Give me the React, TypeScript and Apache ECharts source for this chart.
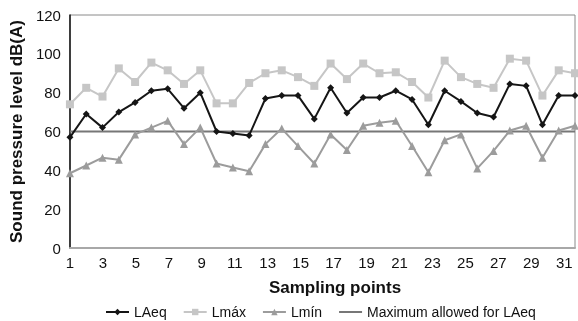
import React, { useEffect, useRef } from "react";
import * as echarts from "echarts";

const categories = Array.from({ length: 32 }, (_, i) => String(i + 1));
const laeq = [57, 69, 62, 70, 75, 81, 82, 72, 80, 60, 59, 58, 77, 78.5, 78.5, 66.5, 82.5, 69.5, 77.5, 77.5, 81, 76.5, 63.5, 81, 75.5, 69.5, 67.5, 84.5, 83.5, 63.5, 78.5, 78.5];
const lmax = [74, 82.5, 78, 92.5, 85.5, 95.5, 91.5, 84.5, 91.5, 74.5, 74.5, 85, 90, 91.5, 88, 83.5, 95, 87, 95, 90, 90.5, 85.5, 77.5, 96.5, 88, 84.5, 82.5, 97.5, 96.5, 78.5, 91.5, 90];
const lmin = [38.5, 42.5, 46.5, 45.5, 58.5, 62, 65.5, 53.5, 62, 43.5, 41.5, 39.5, 53.5, 61.5, 52.5, 43.5, 58.5, 50.5, 63, 64.5, 65.5, 52.5, 39, 55.5, 58.5, 41, 50, 60.5, 63, 46.5, 60.5, 63];
const maxAllowed = categories.map(() => 60);
const seriesNames = ["LAeq", "Lmáx", "Lmín", "Maximum allowed for LAeq"];

const FONT = "'Liberation Sans', Arial, Helvetica, sans-serif";

export default function App() {
  const ref = useRef<HTMLDivElement>(null);
  useEffect(() => {
    if (!ref.current) return;
    const chart = echarts.init(ref.current, undefined, { renderer: "svg" });
    chart.setOption({
      animation: false,
      textStyle: { fontFamily: FONT },
      grid: {
        left: 65,
        top: 15,
        right: 1,
        bottom: 73,
        show: true,
        borderColor: "#8a8a8a",
        borderWidth: 1,
      },
      legend: {
        left: 100,
        top: 300,
        itemWidth: 23,
        itemHeight: 8,
        itemGap: 16,
        textStyle: { fontFamily: FONT, fontSize: 14, color: "#111" },
        data: [
          seriesNames[0],
          seriesNames[1],
          seriesNames[2],
          {
            name: seriesNames[3],
            itemStyle: { opacity: 0, color: "rgba(0,0,0,0)", borderWidth: 0 },
            lineStyle: { color: "#777777", width: 2, opacity: 1 },
          },
        ],
      },
      xAxis: [
        {
          type: "category",
          data: categories,
          boundaryGap: false,
          axisLine: { lineStyle: { color: "#a8a8a8", width: 2 } },
          axisTick: { show: false },
          axisLabel: { show: false },
          splitLine: { show: false },
        },
        {
          type: "value",
          position: "bottom",
          min: 0,
          max: 30.65,
          interval: 1,
          axisLine: { show: false },
          axisTick: { show: false },
          splitLine: { show: false },
          axisLabel: {
            margin: 7,
            fontSize: 15,
            color: "#111",
            fontFamily: FONT,
            formatter: (v: number) => {
              const r = Math.round(v);
              return Math.abs(v - r) < 1e-6 && r % 2 === 0 ? String(r + 1) : "";
            },
          },
        },
      ],
      yAxis: {
        type: "value",
        min: 0,
        max: 120,
        interval: 20,
        name: "Sound pressure level dB(A)",
        nameLocation: "middle",
        nameGap: 40,
        nameTextStyle: { fontFamily: FONT, fontSize: 17, fontWeight: "bold", color: "#111" },
        axisLine: { show: true, lineStyle: { color: "#111", width: 1.5 } },
        axisTick: { show: false },
        splitLine: { show: false },
        axisLabel: { margin: 9, fontSize: 15, color: "#111", fontFamily: FONT },
      },
      graphic: [
        {
          type: "text",
          x: 335,
          y: 287,
          style: {
            text: "Sampling points",
            fontFamily: FONT,
            fontSize: 17,
            fontWeight: "bold",
            fill: "#111",
            align: "center",
            verticalAlign: "middle",
          },
        },
      ],
      series: [
        {
          name: seriesNames[3],
          type: "line",
          data: maxAllowed,
          symbol: "none",
          lineStyle: { color: "#777777", width: 2 },
          itemStyle: { color: "#777777" },
          z: 1,
        },
        {
          name: seriesNames[1],
          type: "line",
          data: lmax,
          symbol: "rect",
          symbolSize: 8,
          lineStyle: { color: "#c6c6c6", width: 2 },
          itemStyle: { color: "#c6c6c6" },
          z: 2,
        },
        {
          name: seriesNames[2],
          type: "line",
          data: lmin,
          symbol: "triangle",
          symbolSize: 8,
          lineStyle: { color: "#9c9c9c", width: 2 },
          itemStyle: { color: "#9c9c9c" },
          z: 3,
        },
        {
          name: seriesNames[0],
          type: "line",
          data: laeq,
          symbol: "diamond",
          symbolSize: 7,
          lineStyle: { color: "#151515", width: 2 },
          itemStyle: { color: "#151515" },
          z: 4,
        },
      ],
    });
    return () => chart.dispose();
  }, []);
  return (
    <div
      ref={ref}
      style={{ position: "fixed", left: 0, top: 0, width: 578, height: 321 }}
    />
  );
}
